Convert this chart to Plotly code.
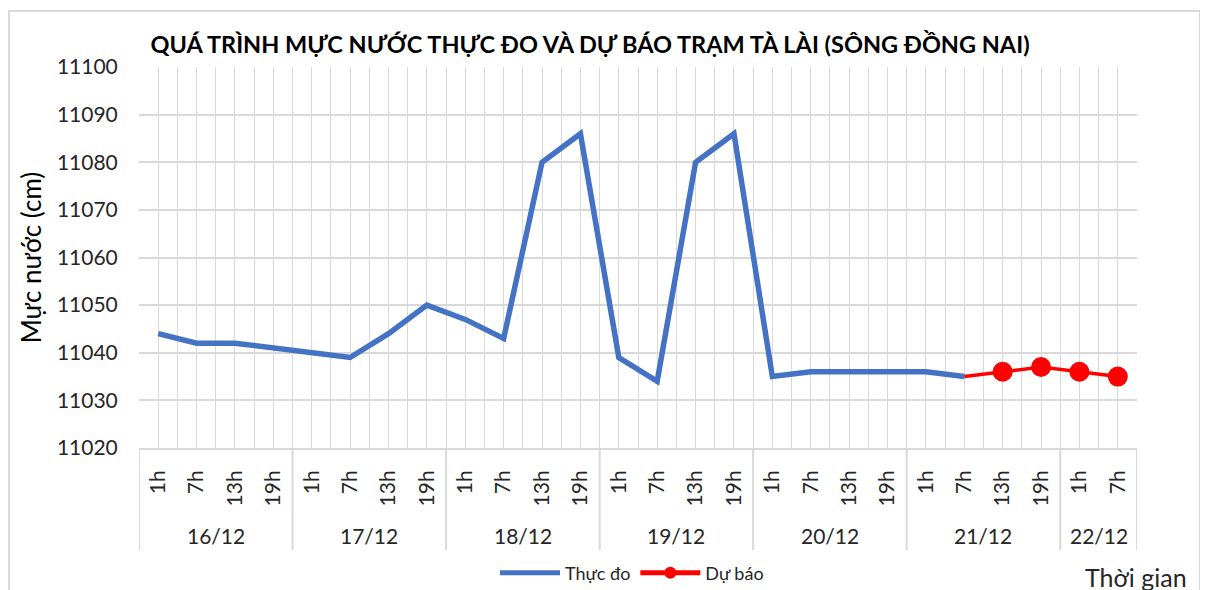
import plotly.graph_objects as go

# ---- data ----
days = ["16/12", "17/12", "18/12", "19/12", "20/12", "21/12", "22/12"]
day_sizes = [4, 4, 4, 4, 4, 4, 2]
hours = ["1h", "7h", "13h", "19h"] * 6 + ["1h", "7h"]

observed = [11044, 11042, 11042, 11041,
            11040, 11039, 11044, 11050,
            11047, 11043, 11080, 11086,
            11039, 11034, 11080, 11086,
            11035, 11036, 11036, 11036,
            11036, 11035]
forecast_start = 21  # index of 21/12 7h
forecast = [11035, 11036, 11037, 11036, 11035]
forecast_marker = [0, 20, 20, 20, 20]

x_obs = list(range(len(observed)))
x_fc = list(range(forecast_start, forecast_start + len(forecast)))
n = len(hours)

FONT = "Lato"
GRID = "#d9d9d9"
TXT = "#262626"

fig = go.Figure()
fig.add_trace(go.Scatter(x=x_obs, y=observed, mode="lines", name="Thực đo",
                         line=dict(color="#4472C4", width=5.5)))
fig.add_trace(go.Scatter(x=x_fc, y=forecast, mode="lines+markers", name="Dự báo",
                         line=dict(color="#FF0000", width=3.5),
                         marker=dict(color="#FF0000", size=forecast_marker, opacity=1,
                                     line=dict(width=0))))

# page has an 8px body margin: figure sits at (8, 8)
OFF = 8
W, H = 1208 - OFF, 600
# plot area in page pixels
L, R, T, B = 139, 1137, 67, 448
ph = B - T
pw = R - L

def py(pix):  # page pixel y -> paper y
    return (B - pix) / ph

def px(pix):  # page pixel x -> paper x
    return (pix - L) / pw

shapes = []
annotations = []
# day group dividers and labels
start = 0
bounds = [-0.5]
for d, s in zip(days, day_sizes):
    center = start + (s - 1) / 2
    annotations.append(dict(x=center, y=py(535), xref="x", yref="paper", text=d,
                            showarrow=False, font=dict(family=FONT, size=21, color=TXT),
                            xanchor="center", yanchor="middle"))
    start += s
    bounds.append(start - 0.5)
for b in bounds:
    shapes.append(dict(type="line", xref="x", yref="paper", x0=b, x1=b,
                       y0=0, y1=py(550), line=dict(color=GRID, width=2)))
# outer chart border
shapes.append(dict(type="rect", xref="paper", yref="paper",
                   x0=px(9), x1=px(1200), y0=py(11), y1=py(604),
                   line=dict(color=GRID, width=2)))

annotations.append(dict(x=px(1136), y=py(577), xref="paper", yref="paper", text="Thời gian",
                        showarrow=False, font=dict(family=FONT, size=25, color=TXT),
                        xanchor="center", yanchor="middle"))

fig.update_layout(
    width=W, height=H,
    margin=dict(l=L - OFF, r=W - (R - OFF), t=T - OFF, b=H - (B - OFF), pad=0),
    paper_bgcolor="white", plot_bgcolor="white",
    font=dict(family=FONT, color=TXT),
    title=dict(text="<b>QUÁ TRÌNH MỰC NƯỚC THỰC ĐO VÀ DỰ BÁO TRẠM TÀ LÀI (SÔNG ĐỒNG NAI)</b>",
               x=(590 - OFF) / W, xanchor="center", y=1 - (45 - OFF) / H, yanchor="middle",
               yref="container", xref="container",
               font=dict(family=FONT, size=23.5, color="#000000")),
    showlegend=True,
    legend=dict(orientation="h", x=px(632), xanchor="center", y=py(573), yanchor="middle",
                font=dict(family=FONT, size=18, color=TXT), itemsizing="constant",
                itemwidth=60, bgcolor="rgba(0,0,0,0)"),
    shapes=shapes, annotations=annotations,
)

fig.update_xaxes(range=[-0.5, n - 0.5], tickmode="array", tickvals=list(range(n)),
                 ticktext=hours, tickangle=-90, showgrid=True, gridcolor=GRID, gridwidth=1,
                 minor=dict(tickmode="linear", tick0=0.5, dtick=1, showgrid=True,
                            gridcolor=GRID, gridwidth=1),
                 showline=True, linecolor=GRID, linewidth=2,
                 ticks="outside", ticklen=12, tickcolor="rgba(0,0,0,0)",
                 tickfont=dict(family=FONT, size=21, color=TXT), zeroline=False, fixedrange=True)
fig.update_yaxes(range=[11020, 11100], dtick=10, tick0=11020, tickformat="d",
                 showgrid=True, gridcolor=GRID,
                 gridwidth=1.5, zeroline=False, showline=False,
                 ticks="outside", ticklen=16, tickcolor="rgba(0,0,0,0)",
                 tickfont=dict(family=FONT, size=21, color=TXT),
                 title=dict(text="Mực nước (cm)", standoff=7,
                            font=dict(family=FONT, size=26, color="#000000")))

fig.write_html("out.html")
